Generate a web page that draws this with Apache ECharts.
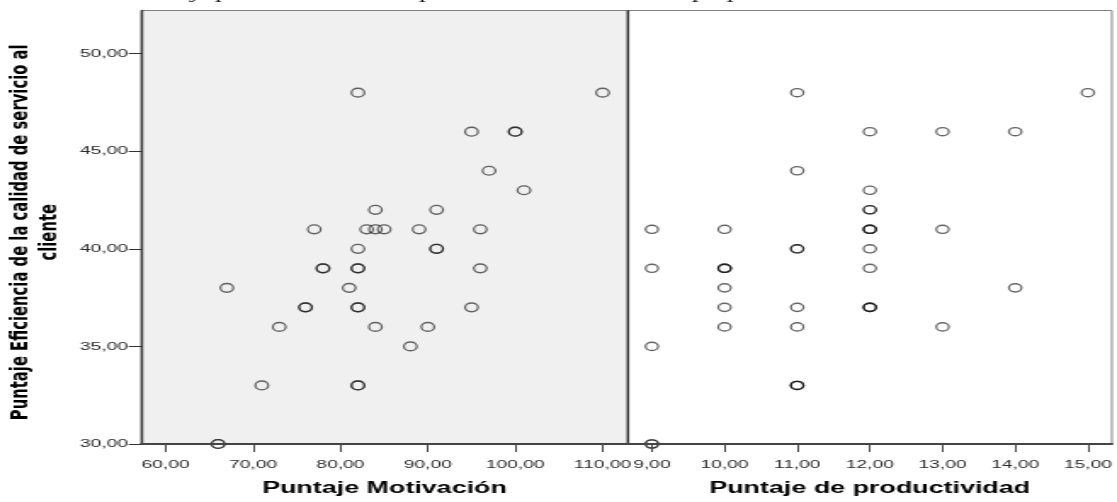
<!DOCTYPE html>
<html><head><meta charset="utf-8">
<script src="https://cdn.jsdelivr.net/npm/echarts@6/dist/echarts.min.js"></script>
<style>
html,body{margin:0;padding:0;background:#fff;overflow:hidden;}
#wrap{width:1117px;height:502px;overflow:hidden;position:relative;}
#chart{width:657px;height:502px;transform:scaleX(1.70015);transform-origin:0 0;}
</style></head><body><div id="wrap"><div id="chart"></div></div>
<script>
// Panel 1: Puntaje Motivación vs Puntaje Eficiencia
const motivacion    = [82,110, 95,100,100, 97, 101, 84,91, 77,83,84,85,89,96, 82,91,91, 78,78,82,82,96, 67,81, 76,76,82,82,95, 73,84,90, 88, 71,82,82, 66,66];
const eficienciaMot = [48,48,  46,46,46,   44, 43,  42,42, 41,41,41,41,41,41, 40,40,40, 39,39,39,39,39, 38,38, 37,37,37,37,37, 36,36,36, 35, 33,33,33, 30,30];
// Panel 2: Puntaje de productividad vs Puntaje Eficiencia
const productividad  = [11,15, 12,13,14, 11, 12, 12,12, 9,10,12,12,12,13, 11,11,12, 9,10,10,10,12, 10,14, 10,11,12,12,12, 10,11,13, 9, 11,11,11, 9,9];
const eficienciaProd = [48,48, 46,46,46, 44, 43, 42,42, 41,41,41,41,41,41, 40,40,40, 39,39,39,39,39, 38,38, 37,37,37,37,37, 36,36,36, 35, 33,33,33, 30,30];

const yTicks    = [30,35,40,45,50];
const motTicks  = [60,70,80,90,100,110];
const prodTicks = [9,10,11,12,13,14,15];
const captionFragments = ['y','p','p','p','p'];

const yTitle = 'Puntaje Eficiencia de la calidad de servicio al\ncliente';
const xTitle1 = 'Puntaje Motivación';
const xTitle2 = 'Puntaje de productividad';

const fmt = v => Number(v).toFixed(2).replace('.', ',');
const zip = (a, b) => a.map((v, i) => [v, b[i]]);

const labelStyle = {fontFamily:'"Liberation Sans", Arial, sans-serif', fontSize:11.3, color:'#2a2a2a'};
const nameStyle = {fontFamily:'"Liberation Sans", Arial, sans-serif', fontSize:15.8, fontWeight:'bold', color:'#000'};

function xAxisFor(gi, min, max, ticks, title){
  return {
    gridIndex: gi, type:'value', min:min, max:max, z:4,
    name:title, nameLocation:'middle', nameGap:37, nameTextStyle:nameStyle,
    axisLine:{show:true, onZero:false, lineStyle:{color:'#444', width:2}},
    axisTick:{show:true, length:8, customValues:ticks, lineStyle:{color:'#444', width:1}},
    axisLabel:{show:true, customValues:ticks, formatter:fmt, margin:15, ...labelStyle},
    splitLine:{show:false}
  };
}

const captionX = [116, 131.5, 251.5, 412, 432.5];
const graphics = captionFragments.map((t, i) => ({
  type:'text', z:10, silent:true,
  style:{text:t, x:captionX[i], y:2, align:'center', verticalAlign:'bottom',
         font:'italic 16px "Liberation Serif", "Times New Roman", serif', fill:'#111'}
}));
graphics.push({type:'rect', z:3, silent:true, shape:{x:84, y:449.2, width:571, height:5}, style:{fill:'#fff'}});

const symStyle = {color:'rgba(0,0,0,0)', borderColor:'rgba(20,20,20,0.82)', borderWidth:1.3};

const chart = echarts.init(document.getElementById('chart'), null, {renderer:'canvas'});
chart.setOption({
  animation:false,
  grid:[
    {left:83.2, top:10.5, width:285.9, height:437, show:true, backgroundColor:'#f0f0f0', borderColor:'#808080', borderWidth:1},
    {left:369.1, top:10.5, width:285.3, height:437, show:true, backgroundColor:'#ffffff', borderColor:'#808080', borderWidth:1}
  ],
  xAxis:[
    xAxisFor(0, 57.23, 112.85, motTicks, xTitle1),
    xAxisFor(1, 8.665, 15.33, prodTicks, xTitle2)
  ],
  yAxis:[
    {gridIndex:0, type:'value', min:30, max:52.21, z:4,
     name:yTitle, nameLocation:'middle', nameGap:45,
     nameTextStyle:{fontFamily:'"DejaVu Sans", Verdana, sans-serif', fontWeight:'bold', fontSize:14.8, lineHeight:17.5, color:'#000', align:'center', padding:[0,10,0,0]},
     axisLine:{show:true, lineStyle:{color:'#333', width:1.4}},
     axisTick:{show:true, length:7.6, customValues:yTicks, lineStyle:{color:'#333', width:1}},
     axisLabel:{show:true, customValues:yTicks, formatter:fmt, margin:8, ...labelStyle},
     splitLine:{show:false}},
    {gridIndex:1, type:'value', min:30, max:52.21, z:4,
     axisLine:{show:true, lineStyle:{color:'#333', width:1.2}},
     axisTick:{show:false}, axisLabel:{show:false}, splitLine:{show:false}}
  ],
  graphic: graphics,
  series:[
    {type:'scatter', xAxisIndex:0, yAxisIndex:0, data:zip(motivacion, eficienciaMot), clip:false,
     symbol:'circle', symbolSize:[7.6, 8.8], itemStyle:symStyle, emphasis:{disabled:true}},
    {type:'scatter', xAxisIndex:1, yAxisIndex:1, data:zip(productividad, eficienciaProd), clip:false,
     symbol:'circle', symbolSize:[7.4, 8.2], itemStyle:symStyle, emphasis:{disabled:true}}
  ]
});
</script></body></html>
